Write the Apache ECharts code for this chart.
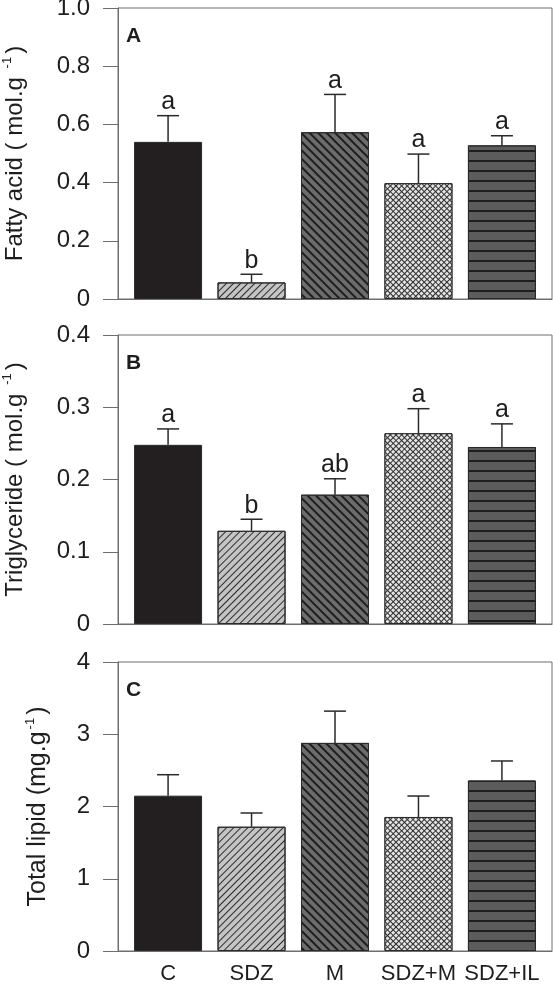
<!DOCTYPE html>
<html>
<head>
<meta charset="utf-8">
<script src="https://cdn.jsdelivr.net/npm/echarts@6/dist/echarts.min.js"></script>
<style>
html,body{margin:0;padding:0;background:#fff;}
#chart{width:553px;height:984px;}
</style>
</head>
<body>
<div id="chart"></div>
<script>
// ---- data ----
const categories = ['C', 'SDZ', 'M', 'SDZ+M', 'SDZ+IL'];

const fattyMean = [0.54, 0.057, 0.573, 0.398, 0.528];
const fattyErr = [0.09, 0.028, 0.13, 0.10, 0.033];
const fattyLetters = ['a', 'b', 'a', 'a', 'a'];

const trigMean = [0.248, 0.129, 0.179, 0.264, 0.245];
const trigErr = [0.022, 0.016, 0.022, 0.034, 0.032];
const trigLetters = ['a', 'b', 'ab', 'a', 'a'];

const lipidMean = [2.15, 1.72, 2.88, 1.855, 2.36];
const lipidErr = [0.29, 0.19, 0.44, 0.29, 0.27];
const lipidLetters = ['', '', '', '', ''];

const yTicksA = [0, 0.2, 0.4, 0.6, 0.8, 1.0];
const yTicksB = [0, 0.1, 0.2, 0.3, 0.4];
const yTicksC = [0, 1, 2, 3, 4];

// ---- styles ----
const FONT = '"Liberation Sans", Arial, Helvetica, sans-serif';
const frameColor = '#6e6e6e';
const ink = '#1e1e1e';

const barStyles = [
  { color: '#231f20' },
  { color: '#c4c4c4', decal: { symbol: 'rect', symbolSize: 1, color: '#2a2a2a', dashArrayX: [1, 0], dashArrayY: [1, 3.9], rotation: -Math.PI / 4 } },
  { color: '#6c6c6c', decal: { symbol: 'rect', symbolSize: 1, color: '#1e1e1e', dashArrayX: [1, 0], dashArrayY: [1.1, 3.7], rotation: Math.PI / 4 } },
  { color: '#2e2e2e', decal: { symbol: 'rect', symbolSize: 1, color: '#e4e4e4', dashArrayX: [2.6, 1.0], dashArrayY: [2.6, 1.0], rotation: Math.PI / 4 } },
  { color: '#5c5c5c', decal: { symbol: 'rect', symbolSize: 1, color: '#1e1e1e', dashArrayX: [1, 0], dashArrayY: [1.4, 7.9], rotation: 0 } }
];

const grids = [
  { left: 118, right: 1, top: 8, height: 291 },
  { left: 118, right: 1, top: 335, height: 289 },
  { left: 118, right: 1, top: 662, height: 289 }
];

const panels = [
  { mean: fattyMean, err: fattyErr, letters: fattyLetters, ticks: yTicksA, label: 'A',
    name: '{n|Fatty acid ( mol.g }{s|-1}{n|)}', nameGap: 89, nameSize: 24, fmt: v => v === 0 ? '0' : v.toFixed(1) },
  { mean: trigMean, err: trigErr, letters: trigLetters, ticks: yTicksB, label: 'B',
    name: '{n|Triglyceride ( mol.g }{s|-1}{n|)}', nameGap: 89, nameSize: 24, fmt: v => v === 0 ? '0' : v.toFixed(1) },
  { mean: lipidMean, err: lipidErr, letters: lipidLetters, ticks: yTicksC, label: 'C',
    name: '{n|Total lipid (mg.g}{s|-1}{n|)}', nameGap: 66, nameSize: 25, fmt: v => String(v) }
];

const chart = echarts.init(document.getElementById('chart'), null, { renderer: 'canvas' });

const option = {
  animation: false,
  backgroundColor: '#fff',
  title: panels.map((p, i) => ({
    text: p.label, left: 126, top: grids[i].top + 18, padding: 0,
    textStyle: { fontFamily: FONT, fontSize: 21, fontWeight: 'bold', color: ink, lineHeight: 21 }
  })),
  grid: grids.map(g => Object.assign({ show: true, borderColor: frameColor, borderWidth: 1, backgroundColor: 'transparent', containLabel: false, outerBoundsMode: 'none' }, g)),
  xAxis: panels.map((p, i) => ({
    type: 'value', gridIndex: i, min: -0.6, max: 4.6,
    splitLine: { show: false },
    axisLine: { show: true, onZero: false, lineStyle: { color: frameColor, width: 1 } },
    axisTick: { show: false },
    axisLabel: {
      show: i === 2, margin: 12, fontFamily: FONT, fontSize: 22, color: ink,
      showMinLabel: false, showMaxLabel: false,
      formatter: v => (Number.isInteger(v) && categories[v] !== undefined) ? categories[v] : ''
    }
  })),
  yAxis: panels.map((p, i) => ({
    type: 'value', gridIndex: i,
    min: p.ticks[0], max: p.ticks[p.ticks.length - 1], interval: p.ticks[1] - p.ticks[0],
    splitLine: { show: false },
    axisLine: { show: true, onZero: false, lineStyle: { color: frameColor, width: 1 } },
    axisTick: { show: true, inside: false, length: 15, lineStyle: { color: frameColor, width: 1 } },
    axisLabel: { margin: 28, fontFamily: FONT, fontSize: 24, color: ink, formatter: p.fmt },
    name: p.name, nameLocation: 'middle', nameGap: p.nameGap, nameRotate: 90,
    nameTextStyle: {
      rich: {
        n: { fontFamily: FONT, fontSize: p.nameSize, color: ink, lineHeight: 28 },
        s: { fontFamily: FONT, fontSize: 13, color: ink, lineHeight: 28, verticalAlign: 'top', padding: [0, 3, 9, 2] }
      }
    }
  })),
  series: []
};

panels.forEach((p, i) => {
  option.series.push({
    type: 'bar', xAxisIndex: i, yAxisIndex: i, barWidth: 68,
    data: p.mean.map((v, k) => ({
      value: [k, v],
      itemStyle: Object.assign({ borderColor: '#2a2a2a', borderWidth: 1 }, barStyles[k])
    }))
  });
  option.series.push({
    type: 'custom', xAxisIndex: i, yAxisIndex: i, z: 5,
    data: p.mean.map((v, k) => [k, v, p.err[k]]),
    renderItem: (params, api) => {
      const x = api.value(0), v = api.value(1), e = api.value(2);
      const p0 = api.coord([x, v]);
      const p1 = api.coord([x, v + e]);
      const ls = { stroke: '#2a2a2a', lineWidth: 1.5 };
      const children = [
        { type: 'line', shape: { x1: p0[0], y1: p0[1], x2: p1[0], y2: p1[1] }, style: ls },
        { type: 'line', shape: { x1: p1[0] - 11, y1: p1[1], x2: p1[0] + 11, y2: p1[1] }, style: ls }
      ];
      const letter = p.letters[params.dataIndex];
      if (letter) {
        children.push({
          type: 'text', x: p1[0], y: p1[1] - 1,
          style: { text: letter, fontFamily: FONT, fontSize: 25, fill: ink, align: 'center', verticalAlign: 'bottom' }
        });
      }
      return { type: 'group', children };
    }
  });
});

chart.setOption(option);
</script>
</body>
</html>
